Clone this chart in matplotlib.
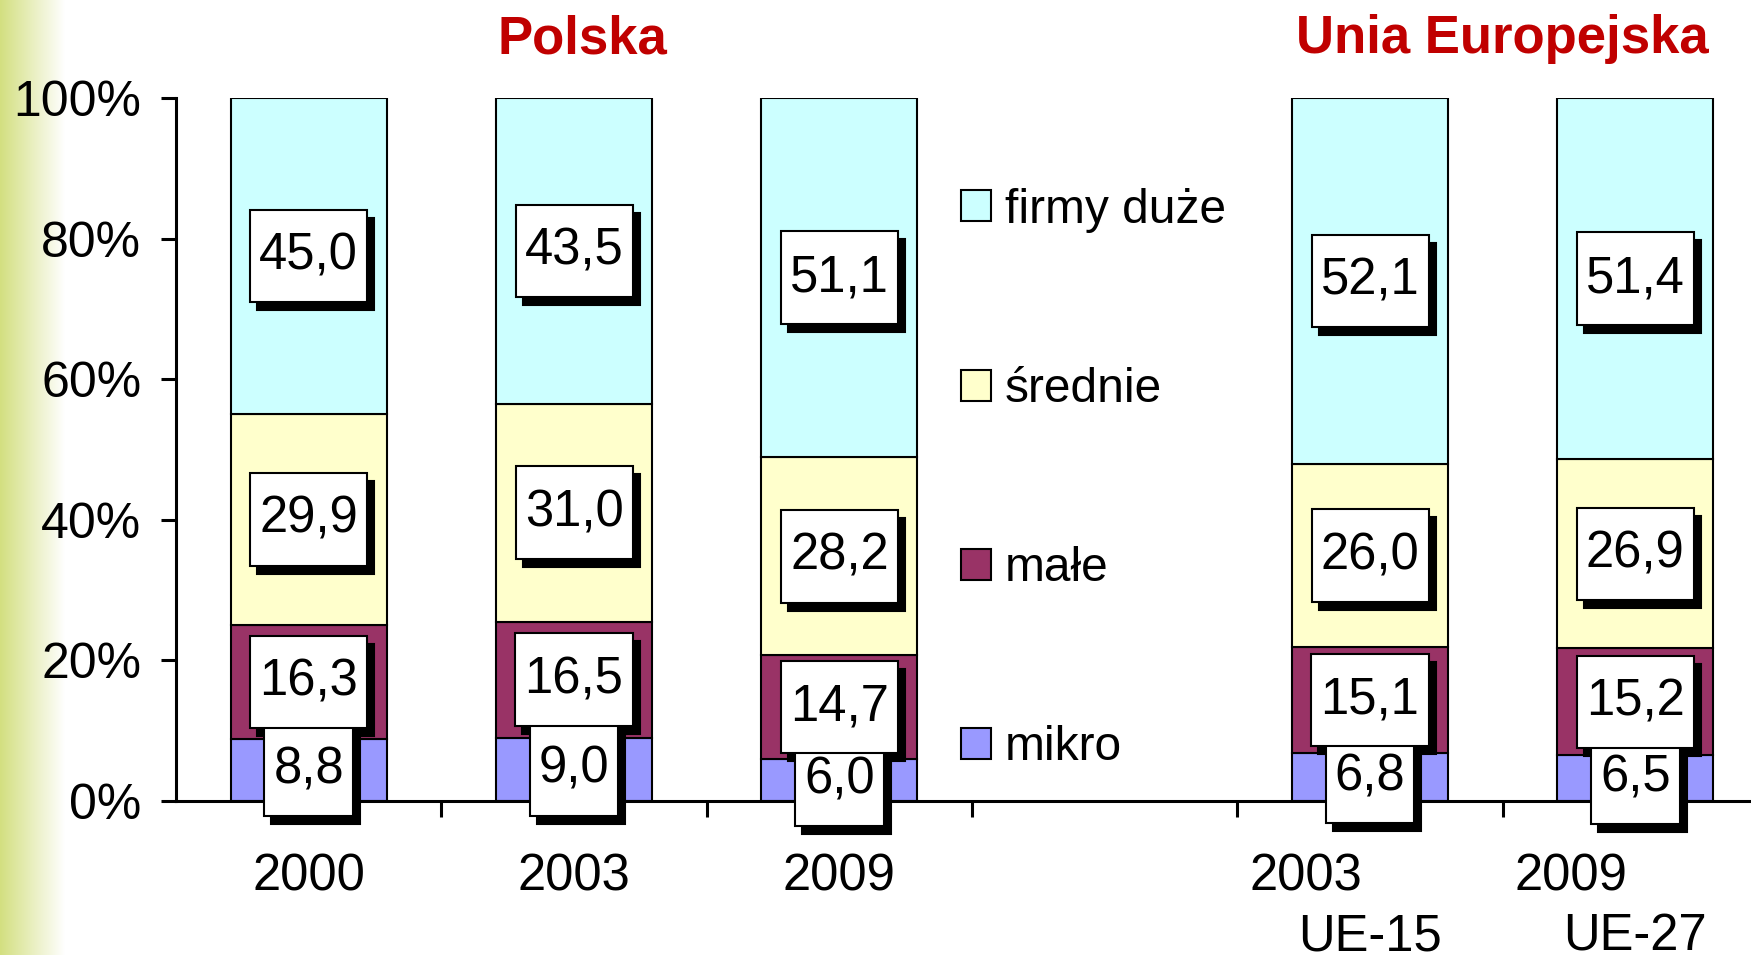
# -*- coding: utf-8 -*-
""" plot.py -------------------------------------------------------------------
    Struktura firm wg wielkości: Polska (2000, 2003, 2009) vs. Unia Europejska
    Stacked 100% bars with boxed value labels, saved as out.png
--------------------------------------------------------------------------- """

import numpy as np
import matplotlib
matplotlib.use('Agg')
import matplotlib.pyplot as plt
from matplotlib.path import Path
from matplotlib.colors import LinearSegmentedColormap

plt.rcParams['font.family'] = ['Liberation Sans', 'DejaVu Sans']

# Data (udział w %, od dołu do góry: mikro, małe, średnie, firmy duże)
years = ['2000', '2003', '2009', '', '2003', '2009']
groups = ['', '', '', '', 'UE-15', 'UE-27']
mikro = [8.8, 9.0, 6.0, np.nan, 6.8, 6.5]
male = [16.3, 16.5, 14.7, np.nan, 15.1, 15.2]
srednie = [29.9, 31.0, 28.2, np.nan, 26.0, 26.9]
duze = [45.0, 43.5, 51.1, np.nan, 52.1, 51.4]

series = [mikro, male, srednie, duze]
names = ['mikro', 'małe', 'średnie', 'firmy duże']
colors = ['#9999FF', '#993366', '#FFFFCC', '#CCFFFF']
red = '#C00000'


def labelBox(x0, y0, width, height, mutation_size):
    """ Square box with more padding top/bottom than left/right """
    px = 0.18 * mutation_size
    py = 0.43 * mutation_size
    return Path([(x0 - px, y0 - py), (x0 + width + px, y0 - py),
                 (x0 + width + px, y0 + height + py),
                 (x0 - px, y0 + height + py), (x0 - px, y0 - py)],
                closed=True)


fig = plt.figure(figsize=(17.51, 9.55), dpi=100)

# green fade on the left edge
bg = fig.add_axes([0, 0, 64 / 1751, 1], zorder=-5)
grad = np.linspace(0, 1, 256).reshape(1, -1)
cmap = LinearSegmentedColormap.from_list('fade', ['#D3DF80', '#FFFFFF'])
bg.imshow(grad, aspect='auto', cmap=cmap, extent=[0, 1, 0, 1])
bg.axis('off')

ax = fig.add_axes([176 / 1751, 154 / 955, 1592 / 1751, 703 / 955])
x = np.arange(len(years))

bottom = np.zeros(len(years))
handles = []
for vals, name, col in zip(series, names, colors):
    v = np.array(vals)
    b = ax.bar(x, v, 0.588, bottom=bottom, color=col, edgecolor='black',
               linewidth=1.5, label=name, zorder=2)
    handles.append(b)
    # boxed value labels with a black drop shadow
    for xi, bi, vi in zip(x, bottom, v):
        if np.isnan(vi):
            continue
        txt = ('%.1f' % vi).replace('.', ',')
        for off, fc, z in [((7, -8), 'black', 5), ((0, 0), 'white', 6)]:
            ax.annotate(txt, xy=(xi, bi + vi / 2), xytext=off,
                        textcoords='offset pixels', ha='center', va='center',
                        fontsize=36.5, color='black', zorder=z,
                        bbox=dict(boxstyle=labelBox, fc=fc, ec='black',
                                  lw=1.5))
    bottom = bottom + np.nan_to_num(v)

ax.set_xlim(-0.5, 5.5)
ax.set_ylim(0, 100)
ax.set_yticks(np.arange(0, 101, 20))
ax.set_yticklabels(['%d%%' % t for t in range(0, 101, 20)])
ax.set_xticks(np.arange(0.5, 6, 1))
ax.set_xticklabels([])
ax.tick_params(axis='y', length=11, width=2.2, labelsize=36, pad=14)
ax.tick_params(axis='x', length=11.5, width=2.2)
for s in ['top', 'right']:
    ax.spines[s].set_visible(False)
for s in ['left', 'bottom']:
    ax.spines[s].set_linewidth(2.2)

# category labels under the axis
for xi, yr, gr in zip(x, years, groups):
    dx = -64 if gr else 0
    ax.annotate(yr, xy=(xi, 0), xycoords=('data', 'axes fraction'),
                xytext=(dx, -89), textcoords='offset pixels',
                ha='center', va='baseline', fontsize=36.5)
    if gr:
        ax.annotate(gr, xy=(xi, 0), xycoords=('data', 'axes fraction'),
                    xytext=(0, -149), textcoords='offset pixels',
                    ha='center', va='baseline', fontsize=36.5)

# group titles
for title, xc in [('Polska', 1.03), ('Unia Europejska', 4.5)]:
    ax.annotate(title, xy=(xc, 1), xycoords=('data', 'axes fraction'),
                xytext=(0, 45), textcoords='offset pixels', ha='center',
                va='baseline', fontsize=38, fontweight='bold', color=red,
                annotation_clip=False)

ax.legend(handles[::-1], names[::-1], loc='center left',
          bbox_to_anchor=(961 / 1751, 1 - 479 / 955),
          bbox_transform=fig.transFigure, frameon=False, fontsize=34.5,
          handlelength=0.62, handleheight=0.62, handletextpad=0.3,
          labelspacing=2.80, borderpad=0, borderaxespad=0)

fig.savefig('out.png', dpi=100)
